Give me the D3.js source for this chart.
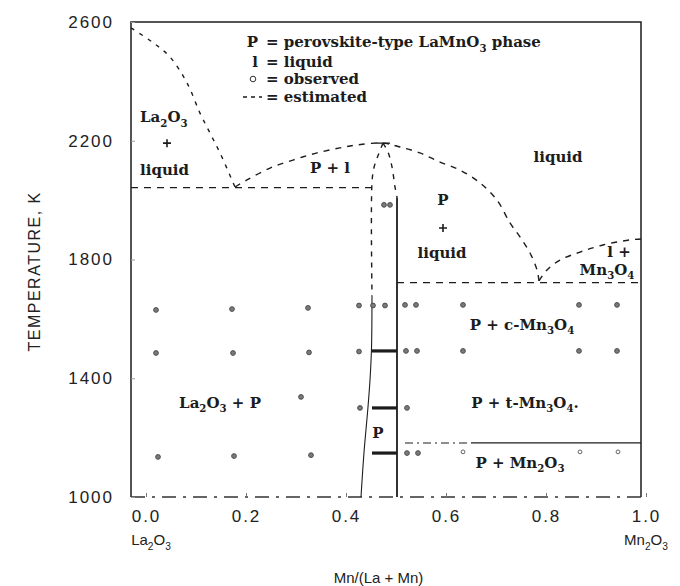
<!DOCTYPE html>
<html>
<head>
<meta charset="utf-8">
<script src="https://cdn.jsdelivr.net/npm/d3@7"></script>
<style>
  body { margin: 0; background: #fff; }
  svg { display: block; }
</style>
</head>
<body>
<svg id="chart" width="680" height="586"></svg>
<script>
// ---- axis ticks ----
const xTicks = [0, 0.2, 0.4, 0.6, 0.8, 1.0];
const yTicks = [1000, 1400, 1800, 2200, 2600];

// ---- phase boundaries: [Mn/(La+Mn), T in K] ----
const laLiquidus = [[-0.03, 2580], [0.012, 2533], [0.048, 2482], [0.082, 2395], [0.108, 2293],
                    [0.128, 2226], [0.148, 2159], [0.178, 2044]];
const perovskiteLiquidus = [[0.178, 2044], [0.202, 2068], [0.248, 2108], [0.294, 2135], [0.342, 2159],
                    [0.388, 2176], [0.422, 2186], [0.474, 2192], [0.508, 2179], [0.548, 2159],
                    [0.588, 2128], [0.628, 2101], [0.668, 2058], [0.702, 2000], [0.728, 1923],
                    [0.748, 1876], [0.768, 1822], [0.782, 1765], [0.786, 1728]];
const mnLiquidus = [[0.786, 1728], [0.802, 1765], [0.828, 1798], [0.868, 1825], [0.914, 1849],
                    [0.968, 1866], [0.99, 1869]];
const laEutectic = [[-0.03, 2042], [0.452, 2042]];
const mnEutectic = [[0.502, 1722], [0.99, 1722]];
const pLeftEstimated = [[0.474, 2192], [0.464, 2150], [0.456, 2110], [0.452, 2060], [0.452, 1680]];
const pLeftSolvus = [[0.452, 1680], [0.451, 1500], [0.448, 1394], [0.444, 1303], [0.436, 1150], [0.430, 1000]];
const pRightEstimated = [[0.474, 2192], [0.484, 2162], [0.492, 2112], [0.498, 2044], [0.502, 2010]];
const pRightSolvus = [[0.502, 2010], [0.502, 1000]];
const mn2o3DashDot = [[0.518, 1182], [0.65, 1182]];
const mn2o3Solid = [[0.65, 1182], [0.99, 1182]];
const meltingMark = [[0.462, 2192], [0.488, 2192]];

// ---- single-phase ranges found at fixed temperatures: [from, to, T] ----
const tieBars = [[0.452, 0.502, 1492], [0.452, 0.502, 1300], [0.452, 0.502, 1148]];

// ---- observed compositions: [Mn/(La+Mn), T] ----
const observedMain = [
  [0.02, 1630], [0.172, 1633], [0.324, 1637], [0.426, 1645], [0.454, 1645], [0.478, 1645],
  [0.518, 1647], [0.54, 1647], [0.634, 1647], [0.866, 1647], [0.942, 1647],
  [0.02, 1485], [0.174, 1485], [0.326, 1487], [0.426, 1490], [0.52, 1492], [0.542, 1492],
  [0.634, 1492], [0.866, 1492], [0.942, 1492],
  [0.31, 1337], [0.428, 1300], [0.522, 1300],
  [0.024, 1135], [0.176, 1138], [0.33, 1141], [0.522, 1148], [0.544, 1148],
  [0.476, 1984], [0.488, 1984]
];
const observedFaint = [[0.634, 1152], [0.868, 1152], [0.944, 1152]];
const crossMarks = [[0.042, 2192], [0.594, 1906]];

// ---- region names: [text, Mn/(La+Mn), T, anchor] ----
const regionText   = ['La_2O_3', 'liquid', 'P + l', 'liquid', 'P', 'liquid', 'l +', 'Mn_3O_4',
                      'P + c-Mn_3O_4', 'P + t-Mn_3O_4.', 'P', 'P + Mn_2O_3', 'La_2O_3 + P'];
const regionX      = [-0.012, -0.012, 0.328, 0.824, 0.594, 0.592, 0.946, 0.922, 0.752, 0.758, 0.464, 0.748, 0.148];
const regionT      = [2263, 2085, 2091, 2128, 1984, 1805, 1808, 1748, 1563, 1300, 1199, 1098, 1300];
const regionAnchor = ['start', 'start', 'start', 'middle', 'middle', 'middle', 'middle', 'middle',
                      'middle', 'middle', 'middle', 'middle', 'middle'];

const xFrame = [-0.03, 0.99];

const svg = d3.select('#chart');
const x = d3.scaleLinear().domain([0, 1]).range([146, 646]);
const y = d3.scaleLinear().domain([1000, 2600]).range([497, 22]);

const ink = '#1c1c1c';
const serif = '"DejaVu Serif", serif';
const sans = '"Liberation Sans", Arial, sans-serif';

// text with "_c" meaning subscript c
function rich(sel, str, size) {
  const parts = [];
  let i = 0;
  while (i < str.length) {
    if (str[i] === '_') { parts.push({ t: str[i + 1], sub: true }); i += 2; }
    else {
      let j = i;
      while (j < str.length && str[j] !== '_') j++;
      parts.push({ t: str.slice(i, j), sub: false });
      i = j;
    }
  }
  const shift = size * 0.3;
  let down = false;
  parts.forEach(p => {
    const ts = sel.append('tspan').text(p.t);
    if (p.sub) {
      ts.attr('font-size', size * 0.68);
      if (!down) { ts.attr('dy', shift); down = true; }
    } else if (down) {
      ts.attr('dy', -shift); down = false;
    }
  });
}

const line = d3.line().x(d => x(d[0])).y(d => y(d[1]));
const curve = d3.line().x(d => x(d[0])).y(d => y(d[1])).curve(d3.curveCatmullRom.alpha(0.5));

// ---- frame ----
svg.append('path')
  .attr('d', `M${x(xFrame[0])},${y(1000)}V${y(2600)}H${x(xFrame[1])}V${y(1000)}`)
  .attr('fill', 'none').attr('stroke', ink).attr('stroke-width', 1.5);
svg.append('path')
  .attr('d', line([[xFrame[0], 1000], [xFrame[1], 1000]]))
  .attr('fill', 'none').attr('stroke', '#333').attr('stroke-width', 1.3)
  .attr('stroke-dasharray', '14,7,3,7');

// ---- axes ----
const yAxis = svg.append('g')
  .attr('transform', `translate(${x(xFrame[0])},0)`)
  .call(d3.axisLeft(y).tickValues(yTicks).tickFormat(d3.format('d'))
    .tickSizeInner(-4).tickSizeOuter(0).tickPadding(17));
yAxis.select('.domain').remove();
yAxis.selectAll('line').attr('stroke', '#999');
yAxis.selectAll('text').attr('font-family', sans).attr('font-size', 17)
  .attr('letter-spacing', 2).attr('fill', '#222');

const xAxis = svg.append('g')
  .attr('transform', `translate(0,${y(1000)})`)
  .call(d3.axisBottom(x).tickValues(xTicks).tickFormat(d3.format('.1f'))
    .tickSizeInner(-4).tickSizeOuter(0).tickPadding(13));
xAxis.select('.domain').remove();
xAxis.selectAll('line').attr('stroke', '#777');
xAxis.selectAll('text').attr('font-family', sans).attr('font-size', 17)
  .attr('letter-spacing', 2).attr('fill', '#222');

// end-member names under the axis
const endLa = svg.append('text').attr('x', x(0.01)).attr('y', 545)
  .attr('text-anchor', 'middle').attr('font-family', sans).attr('font-size', 15).attr('fill', '#222');
rich(endLa, 'La_2O_3', 15);
const endMn = svg.append('text').attr('x', x(1.0)).attr('y', 545)
  .attr('text-anchor', 'middle').attr('font-family', sans).attr('font-size', 15).attr('fill', '#222');
rich(endMn, 'Mn_2O_3', 15);

svg.append('text').attr('x', x(0.465)).attr('y', 583)
  .attr('text-anchor', 'middle').attr('font-family', sans).attr('font-size', 15)
  .attr('fill', '#222').text('Mn/(La + Mn)');

svg.append('text')
  .attr('transform', `translate(40,${y(1760)}) rotate(-90)`)
  .attr('text-anchor', 'middle').attr('font-family', sans).attr('font-size', 16)
  .attr('letter-spacing', 1.5).attr('fill', '#222').text('TEMPERATURE, K');

// ---- estimated (dashed) boundaries ----
const dashed = svg.append('g').attr('fill', 'none').attr('stroke', ink).attr('stroke-width', 1.4);
dashed.append('path').attr('d', curve(laLiquidus)).attr('stroke-dasharray', '4,6');
dashed.append('path').attr('d', curve(perovskiteLiquidus)).attr('stroke-dasharray', '6,6');
dashed.append('path').attr('d', curve(mnLiquidus)).attr('stroke-dasharray', '6,6');
dashed.append('path').attr('d', line(laEutectic)).attr('stroke-dasharray', '7,6');
dashed.append('path').attr('d', line(mnEutectic)).attr('stroke-dasharray', '7,6');
dashed.append('path').attr('d', curve(pLeftEstimated)).attr('stroke-dasharray', '5,6');
dashed.append('path').attr('d', curve(pRightEstimated)).attr('stroke-dasharray', '5,6');
dashed.append('path').attr('d', line(mn2o3DashDot)).attr('stroke-dasharray', '8,4,2,4').attr('stroke-width', 1.1);

// ---- solid boundaries ----
const solid = svg.append('g').attr('fill', 'none').attr('stroke', ink);
solid.append('path').attr('d', curve(pLeftSolvus)).attr('stroke-width', 1.1);
solid.append('path').attr('d', line(pRightSolvus)).attr('stroke-width', 1.8);
solid.append('path').attr('d', line(mn2o3Solid)).attr('stroke-width', 1.2);
solid.append('path').attr('d', line(meltingMark)).attr('stroke-width', 1.3);

// ---- tie bars ----
svg.append('g').selectAll('line').data(tieBars).join('line')
  .attr('x1', d => x(d[0])).attr('x2', d => x(d[1]))
  .attr('y1', d => y(d[2])).attr('y2', d => y(d[2]))
  .attr('stroke', ink).attr('stroke-width', 3.2);

// ---- observed points ----
svg.append('g').selectAll('circle').data(observedMain).join('circle')
  .attr('cx', d => x(d[0])).attr('cy', d => y(d[1])).attr('r', 2.4)
  .attr('fill', '#7a7a7a').attr('stroke', '#444').attr('stroke-width', 0.9);
svg.append('g').selectAll('circle').data(observedFaint).join('circle')
  .attr('cx', d => x(d[0])).attr('cy', d => y(d[1])).attr('r', 1.9)
  .attr('fill', '#fff').attr('stroke', '#555').attr('stroke-width', 0.9);

// ---- cross marks ----
svg.append('g').selectAll('path').data(crossMarks).join('path')
  .attr('d', d => `M${x(d[0]) - 4},${y(d[1])}h8M${x(d[0])},${y(d[1]) - 4}v8`)
  .attr('stroke', ink).attr('stroke-width', 1.6);

// ---- region names ----
regionText.forEach((t, i) => {
  const el = svg.append('text')
    .attr('x', x(regionX[i])).attr('y', y(regionT[i]))
    .attr('text-anchor', regionAnchor[i])
    .attr('font-family', serif).attr('font-weight', 'bold').attr('font-size', 15)
    .attr('fill', ink);
  rich(el, t, 15);
});

// ---- legend ----
const legend = svg.append('g').attr('font-family', serif).attr('font-weight', 'bold')
  .attr('font-size', 15).attr('fill', ink);
const legendRows = [47, 67, 84, 102];
legend.append('text').attr('x', 258).attr('y', legendRows[0]).attr('text-anchor', 'end').text('P');
legend.append('text').attr('x', 258).attr('y', legendRows[1]).attr('text-anchor', 'end').text('l');
legend.append('circle').attr('cx', 253).attr('cy', legendRows[2] - 5).attr('r', 2.8)
  .attr('fill', 'none').attr('stroke', '#333').attr('stroke-width', 1);
legend.append('line').attr('x1', 243).attr('x2', 262)
  .attr('y1', legendRows[3] - 5).attr('y2', legendRows[3] - 5)
  .attr('stroke', ink).attr('stroke-width', 1.4).attr('stroke-dasharray', '4,4');
const legendTexts = ['= perovskite-type LaMnO_3 phase', '= liquid', '= observed', '= estimated'];
legendTexts.forEach((t, i) => {
  const el = legend.append('text').attr('x', 266).attr('y', legendRows[i]);
  rich(el, t, 15);
});
</script>
</body>
</html>
